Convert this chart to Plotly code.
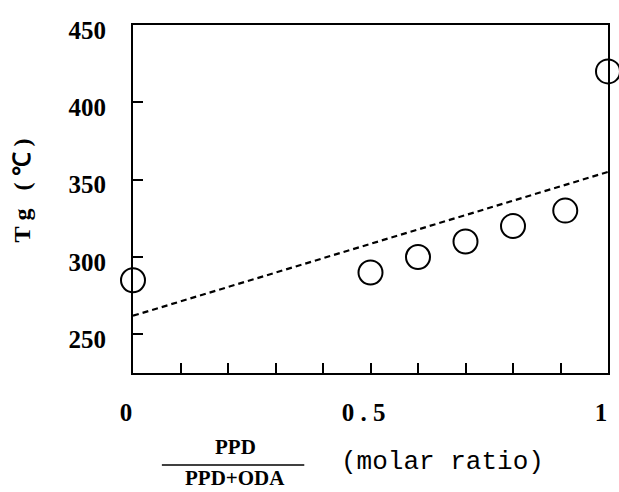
import plotly.graph_objects as go

# data
ratio = [0.0, 0.5, 0.6, 0.7, 0.8, 0.91, 1.0]
tg = [285, 290, 300, 310, 320, 330, 420]
line_x = [0.0, 1.0]
line_y = [262, 355]

x_tickvals = [0, 0.1, 0.2, 0.3, 0.4, 0.5, 0.6, 0.7, 0.8, 0.9, 1.0]
x_ticktext = ["0", "", "", "", "", "0 . 5", "", "", "", "", "1"]
y_tickvals = [250, 300, 350, 400, 450]
y_ticktext = ["250", "300", "350", "400", "450"]

W, H = 619, 492
L, R, T, B = 133, 9, 25, 119

fig = go.Figure()
fig.add_trace(go.Scatter(
    x=line_x, y=line_y, mode="lines",
    line=dict(color="black", width=2.2, dash="6px,4px"),
    showlegend=False, hoverinfo="skip"))
fig.add_trace(go.Scatter(
    x=ratio, y=tg, mode="markers", cliponaxis=False,
    marker=dict(symbol="circle-open", size=24, color="black",
                line=dict(color="black", width=2)),
    showlegend=False))

tickfont = dict(family="Liberation Serif", size=25, color="black", weight="bold")

fig.update_xaxes(
    range=[0, 1], tickvals=x_tickvals, ticktext=x_ticktext,
    ticks="inside", ticklen=10, tickwidth=1.5, tickcolor="black",
    showline=True, linecolor="black", linewidth=2, mirror=True,
    showgrid=False, zeroline=False, tickfont=tickfont,
    ticklabelstandoff=16, ticklabelshift=-7)
fig.update_yaxes(
    range=[225, 450], tickvals=y_tickvals, ticktext=y_ticktext,
    ticks="inside", ticklen=10, tickwidth=1.5, tickcolor="black",
    showline=True, linecolor="black", linewidth=2, mirror=True,
    showgrid=False, zeroline=False, tickfont=tickfont,
    ticklabelstandoff=20, ticklabelshift=5)

pw, ph = W - L - R, H - T - B
def px(x):
    return (x - L) / pw
def py(y):
    return (H - B - y) / ph

ann_font = dict(family="Liberation Serif", size=21, color="black", weight="bold")
nb = "\u00a0"
fig.add_annotation(x=px(22), y=py(190), xref="paper", yref="paper",
                   text="T" + nb + "g" + nb * 3 + "(" + nb + "℃" + nb + ")",
                   textangle=-90, showarrow=False,
                   font=dict(family="Liberation Serif", size=24, color="black", weight="bold"),
                   xanchor="center", yanchor="middle")
fig.add_annotation(x=px(236), y=py(447), xref="paper", yref="paper",
                   text="PPD", showarrow=False, font=ann_font,
                   xanchor="center", yanchor="middle")
fig.add_annotation(x=px(235), y=py(491), xref="paper", yref="paper",
                   text="PPD+ODA", showarrow=False, font=ann_font,
                   xanchor="center", yanchor="bottom", borderpad=0)
fig.add_annotation(x=px(340), y=py(462), xref="paper", yref="paper",
                   text="(molar ratio)", showarrow=False,
                   font=dict(family="Liberation Mono", size=26, color="black"),
                   xanchor="left", yanchor="middle")
fig.add_shape(type="line", xref="paper", yref="paper",
              x0=px(162), x1=px(305), y0=py(465), y1=py(465),
              line=dict(color="black", width=1.5))

fig.update_layout(
    width=W, height=H, margin=dict(l=L, r=R, t=T, b=B),
    paper_bgcolor="white", plot_bgcolor="white")

fig.write_html("out.html")
